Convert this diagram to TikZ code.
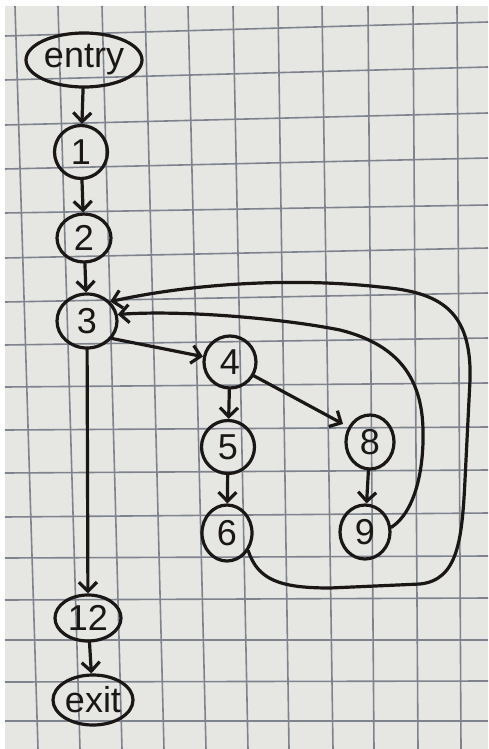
\documentclass[tikz,border=0pt]{standalone}
\usepackage{fontspec}
\setmainfont{Liberation Sans}
\usetikzlibrary{shapes.geometric,arrows.meta}
\definecolor{paper}{HTML}{E6E6E3}
\definecolor{gridc}{HTML}{7E838E}
\definecolor{ink}{HTML}{1A1716}
\tikzset{
  nd/.style={draw=ink, line width=1.6pt, ellipse, inner sep=0pt, text=ink,
    font=\fontsize{18}{20}\selectfont},
  edge/.style={draw=ink, line width=1.6pt, line cap=round, line join=round,
    -{Straight Barb[length=4.5pt,width=9pt,line width=1.6pt]}},
  gridline/.style={draw=gridc, line width=0.8pt}
}
\begin{document}
\begin{tikzpicture}[x=0.5pt,y=-0.5pt]
\fill[white] (0,0) rectangle (488,749);
\fill[paper] (5,6) rectangle (488,749);
\useasboundingbox (0,0) rectangle (488,749);
% grid
\foreach \a/\b in {15/38,58/80,102/122,145/164,188/206,233/248,278/289,322/333,368/374,413/418,457/461}
  \draw[gridline] (\a,6) -- (\b,749);
\foreach \l/\r in {36/22,80/67,125/113,169/158,213/205,258/248,302/293,345/338,387/383,430/427,473/470,517/513,558/556,600/598,640/640,682/681,721/721}
  \draw[gridline] (5,\l) -- (488,\r);
% nodes
\node[nd, minimum width=58pt, minimum height=27pt] (entry) at (84,60) {entry};
\node[nd, minimum width=26.5pt, minimum height=26.5pt] (n1) at (81,152) {1};
\node[nd, minimum width=27pt, minimum height=24pt] (n2) at (84,238) {2};
\node[nd, minimum width=30pt, minimum height=27pt] (n3) at (87,321) {3};
\node[nd, minimum width=26pt, minimum height=26pt] (n4) at (230,362) {4};
\node[nd, minimum width=26.5pt, minimum height=26.5pt] (n5) at (228,447) {5};
\node[nd, minimum width=25pt, minimum height=28pt] (n6) at (227,533) {6};
\node[nd, minimum width=24pt, minimum height=27pt] (n8) at (370,442) {8};
\node[nd, minimum width=25pt, minimum height=27pt] (n9) at (365,532) {9};
\node[nd, minimum width=33pt, minimum height=23pt] (n12) at (88,618) {12};
\node[nd, minimum width=40pt, minimum height=25pt] (exit) at (93,700) {exit};
% edges
\draw[edge] (entry) -- (n1);
\draw[edge] (n1) -- (n2);
\draw[edge] (n2) -- (n3);
\draw[edge] (n3.-35) -- (n4);
\draw[edge] (n3) -- (n12);
\draw[edge] (n12) -- (exit);
\draw[edge] (n4) -- (n5);
\draw[edge] (n5) -- (n6);
\draw[edge, shorten >=3pt] (n4.-30) -- (n8.145);
\draw[edge] (n8) -- (n9);
\draw[edge] (n9.10) .. controls (415,512) and (424,470) .. (423,430)
  .. controls (422,380) and (400,345) .. (340,330)
  .. controls (280,318) and (180,310) .. (n3.12);
\draw[edge] (n6.-40) .. controls (258,580) and (280,588) .. (330,588) -- (420,584)
  .. controls (458,580) and (462,540) .. (465,480) -- (470,380)
  .. controls (472,310) and (440,292) .. (380,287)
  .. controls (300,278) and (200,282) .. (n3.40);
\end{tikzpicture}
\end{document}
